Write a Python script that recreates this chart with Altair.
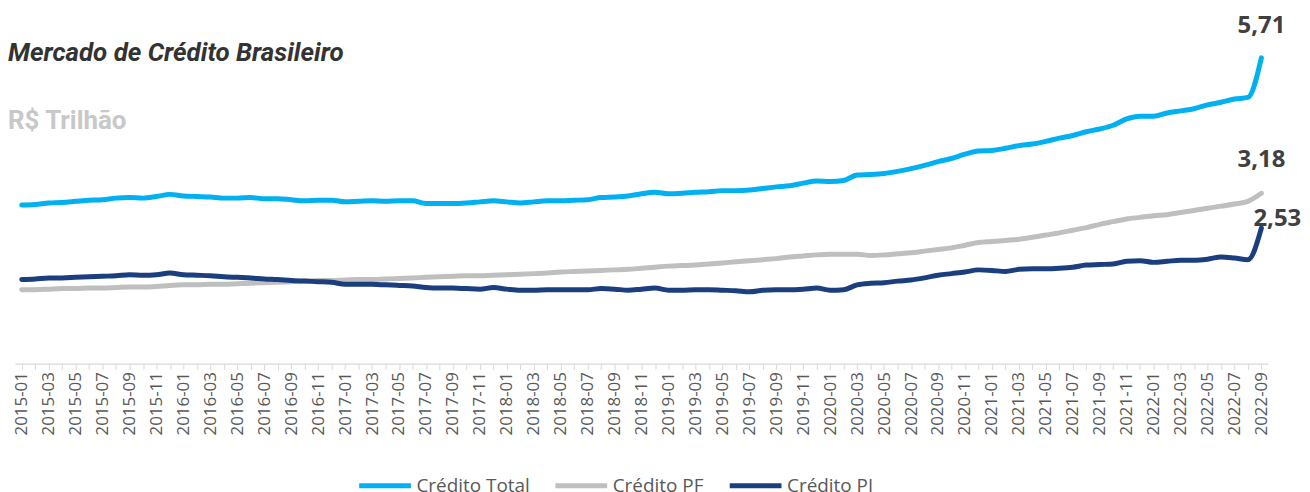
import altair as alt
import pandas as pd

months = [f"{y}-{m:02d}" for y in range(2015, 2023) for m in range(1, 13)][:93]

total = [2.96, 2.97, 3.00, 3.01, 3.03, 3.05, 3.06, 3.09, 3.10, 3.09,
         3.12, 3.16, 3.13, 3.12, 3.11, 3.09, 3.09, 3.10, 3.08, 3.08,
         3.06, 3.04, 3.05, 3.05, 3.02, 3.03, 3.04, 3.03, 3.04, 3.04,
         2.99, 2.99, 2.99, 3.00, 3.02, 3.04, 3.02, 3.00, 3.02, 3.04,
         3.04, 3.05, 3.06, 3.10, 3.11, 3.13, 3.17, 3.20, 3.17, 3.18,
         3.20, 3.21, 3.23, 3.23, 3.24, 3.27, 3.30, 3.32, 3.37, 3.41,
         3.40, 3.42, 3.52, 3.53, 3.55, 3.59, 3.64, 3.70, 3.77, 3.83,
         3.91, 3.97, 3.98, 4.02, 4.07, 4.10, 4.15, 4.21, 4.26, 4.33,
         4.38, 4.45, 4.57, 4.62, 4.62, 4.68, 4.72, 4.76, 4.83, 4.88,
         4.94, 4.97, 5.71]

pf = [1.38, 1.38, 1.39, 1.40, 1.40, 1.41, 1.41, 1.42, 1.43, 1.43,
      1.44, 1.46, 1.47, 1.47, 1.48, 1.48, 1.49, 1.50, 1.51, 1.52,
      1.53, 1.54, 1.55, 1.55, 1.56, 1.57, 1.57, 1.58, 1.59, 1.60,
      1.61, 1.62, 1.63, 1.64, 1.64, 1.65, 1.66, 1.67, 1.68, 1.69,
      1.71, 1.72, 1.73, 1.74, 1.75, 1.76, 1.78, 1.80, 1.82, 1.83,
      1.84, 1.86, 1.88, 1.90, 1.92, 1.94, 1.96, 1.99, 2.01, 2.03,
      2.04, 2.04, 2.04, 2.02, 2.03, 2.05, 2.07, 2.10, 2.13, 2.16,
      2.21, 2.26, 2.28, 2.30, 2.32, 2.36, 2.40, 2.44, 2.49, 2.54,
      2.60, 2.65, 2.70, 2.73, 2.76, 2.78, 2.82, 2.86, 2.90, 2.94,
      2.98, 3.03, 3.18]

pj = [1.57, 1.58, 1.60, 1.60, 1.61, 1.62, 1.63, 1.64, 1.66, 1.65,
      1.66, 1.69, 1.66, 1.65, 1.64, 1.62, 1.61, 1.60, 1.58, 1.57,
      1.55, 1.54, 1.53, 1.52, 1.48, 1.48, 1.48, 1.47, 1.46, 1.45,
      1.42, 1.41, 1.41, 1.40, 1.39, 1.42, 1.39, 1.37, 1.37, 1.38,
      1.38, 1.38, 1.38, 1.40, 1.39, 1.37, 1.39, 1.41, 1.37, 1.37,
      1.38, 1.38, 1.37, 1.36, 1.34, 1.37, 1.38, 1.38, 1.39, 1.41,
      1.37, 1.38, 1.47, 1.50, 1.51, 1.54, 1.56, 1.60, 1.65, 1.68,
      1.71, 1.75, 1.74, 1.72, 1.76, 1.77, 1.77, 1.78, 1.80, 1.84,
      1.85, 1.86, 1.91, 1.92, 1.89, 1.91, 1.93, 1.93, 1.95, 1.99,
      1.97, 1.94, 2.53]

series_names = ["Crédito Total", "Crédito PF", "Crédito PJ"]
series_colors = ["#00B0F0", "#BFBFBF", "#1B3F7E"]
end_labels = ["5,71", "3,18", "2,53"]
title_text = "Mercado de Crédito Brasileiro"
unit_text = "R$ Trilhão"

rows = []
for name, vals in zip(series_names, [total, pf, pj]):
    for m, v in zip(months, vals):
        rows.append({"mes": m, "serie": name, "valor": v})
df = pd.DataFrame(rows)

x_enc = alt.X(
    "mes:O",
    scale=alt.Scale(type="point", padding=0.5),
    title=None,
    axis=alt.Axis(
        labelAngle=270,
        labelFont="Open Sans",
        labelFontSize=17,
        labelColor="#595959",
        domainColor="#D9D9D9",
        domainWidth=1.2,
        tickColor="#D9D9D9",
        tickSize=6,
        labelPadding=2,
        labelOverlap=False,
        labelExpr="toNumber(slice(datum.value, 5, 7)) % 2 == 1 ? datum.value : ''",
    ),
)
y_enc = alt.Y("valor:Q", scale=alt.Scale(domain=[0, 6.623], nice=False), axis=None)

base = alt.Chart(df)

lines = base.mark_line(strokeWidth=5, strokeCap="round", strokeJoin="round", interpolate="monotone").encode(
    x=x_enc,
    y=y_enc,
    color=alt.Color(
        "serie:N",
        scale=alt.Scale(domain=series_names, range=series_colors),
        legend=alt.Legend(
            title=None,
            orient="none",
            legendX=343,
            legendY=450,
            direction="horizontal",
            symbolSize=2700,
            symbolStrokeWidth=5,
            labelFont="Open Sans",
            labelFontSize=19,
            labelColor="#595959",
            labelOffset=3,
            columnPadding=15,
        ),
    ),
)

label_offsets = [(0, -25), (0, -26), (16, -2)]
label_layers = []
for name, txt, (ddx, ddy) in zip(series_names, end_labels, label_offsets):
    label_layers.append(
        base.transform_filter(alt.datum.serie == name)
        .transform_filter(alt.datum.mes == months[-1])
        .mark_text(font="Open Sans", fontSize=24, fontWeight="bold", color="#404040",
                   align="center", baseline="alphabetic", dx=ddx, dy=ddy)
        .encode(x=x_enc, y=y_enc, text=alt.value(txt))
    )

title_layer = alt.Chart(pd.DataFrame({"t": [title_text]})).mark_text(
    font="Roboto", fontSize=26, fontWeight="bold", fontStyle="italic", color="#333333",
    align="left", baseline="alphabetic"
).encode(x=alt.value(-7), y=alt.value(52), text="t:N")

unit_layer = alt.Chart(pd.DataFrame({"t": [unit_text]})).mark_text(
    font="Roboto", fontSize=26, fontWeight="bold", color="#C8C8C8",
    align="left", baseline="alphabetic"
).encode(x=alt.value(-7), y=alt.value(121), text="t:N")

chart = alt.layer(lines, *label_layers, title_layer, unit_layer).properties(
    width=1258,
    height=356,
    padding=0,
).configure_view(stroke=None)

chart.save("out.html", embed_options={"renderer": "svg", "actions": False})
